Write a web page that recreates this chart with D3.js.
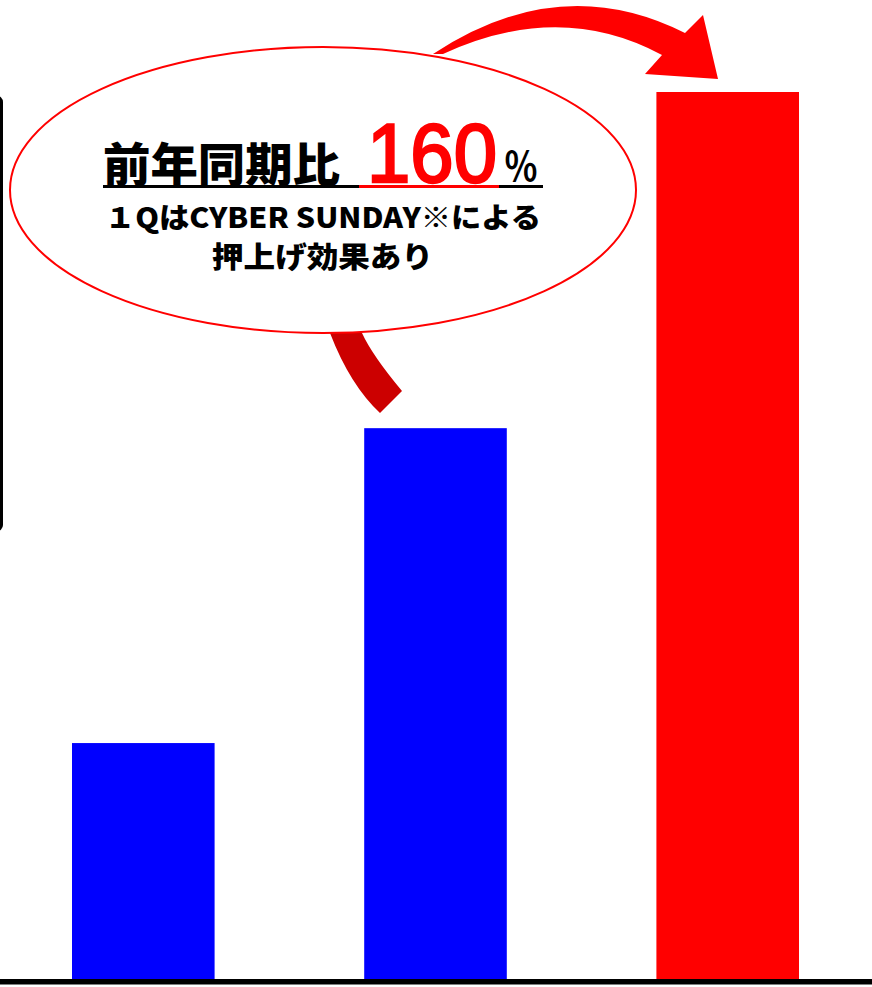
<!DOCTYPE html>
<html>
<head>
<meta charset="utf-8">
<script src="https://cdn.jsdelivr.net/npm/d3@7"></script>
<style>
  html, body { margin: 0; padding: 0; background: #fff; }
  svg { display: block; }
</style>
</head>
<body>
<svg id="chart" width="872" height="987"></svg>
<script>
// Quarterly sales index (latest quarter = 100)
const periods = ["P1", "P2", "P3"];
const values = [26.6, 62.1, 100];
const barColors = ["#0000ff", "#0000ff", "#ff0000"];

// Callout text
const headline = "前年同期比";
const ratioText = "160";
const ratioUnit = "％";
const noteLine1 = "１QはCYBER SUNDAY※による";
const noteLine2 = "押上げ効果あり";

const W = 872, H = 987;
const svg = d3.select("#chart");

const x = d3.scaleBand()
  .domain(periods)
  .range([72, 799])
  .paddingInner(0.512)
  .paddingOuter(0);

const y = d3.scaleLinear()
  .domain([0, 100])
  .range([979, 92]);

// Partly visible framed panel on the left edge
svg.append("rect")
  .attr("x", -300).attr("y", 97)
  .attr("width", 301.5).attr("height", 433)
  .attr("rx", 5)
  .attr("fill", "none")
  .attr("stroke", "#000")
  .attr("stroke-width", 3);

// Bars
svg.append("g").selectAll("rect")
  .data(values)
  .join("rect")
  .attr("x", (d, i) => x(periods[i]))
  .attr("y", d => y(d))
  .attr("width", x.bandwidth())
  .attr("height", d => y(0) - y(d))
  .attr("fill", (d, i) => barColors[i]);

// Baseline
svg.append("rect")
  .attr("x", 0).attr("y", y(0))
  .attr("width", W).attr("height", 5.5)
  .attr("fill", "#000");

// Arrow from callout to the middle bar
svg.append("path")
  .attr("d", "M 330 333 Q 350 385 380 413 L 402 391 Q 372 355 362 333 Z")
  .attr("fill", "#cc0000");

// Curved arrow from callout to the last bar
svg.append("path")
  .attr("d", "M 433 54 Q 560 -30 685 33 L 703 15 L 718 79 L 645 74 L 662 55 Q 560 0 443 54 Z")
  .attr("fill", "#ff0000");

// Callout bubble
svg.append("ellipse")
  .attr("cx", 323).attr("cy", 190)
  .attr("rx", 313).attr("ry", 143)
  .attr("fill", "#fff")
  .attr("stroke", "#ff0000")
  .attr("stroke-width", 2);

const jp = "'Noto Sans CJK JP', 'Noto Sans', sans-serif";

svg.append("text")
  .attr("x", 103).attr("y", 181)
  .attr("font-family", jp)
  .attr("font-weight", 900)
  .attr("font-size", 46)
  .attr("textLength", 237)
  .attr("lengthAdjust", "spacingAndGlyphs")
  .attr("fill", "#000")
  .text(headline);

svg.append("text")
  .attr("x", 367).attr("y", 182)
  .attr("font-family", "'Liberation Sans', Arial, sans-serif")
  .attr("font-size", 83)
  .attr("textLength", 130)
  .attr("lengthAdjust", "spacingAndGlyphs")
  .attr("fill", "#ff0000")
  .attr("stroke", "#ff0000")
  .attr("stroke-width", 2.5)
  .text(ratioText);

svg.append("text")
  .attr("x", 504).attr("y", 181)
  .attr("font-family", "'Noto Sans CJK JP', sans-serif")
  .attr("font-weight", 700)
  .attr("font-size", 40)
  .attr("textLength", 34)
  .attr("lengthAdjust", "spacingAndGlyphs")
  .attr("fill", "#000")
  .text(ratioUnit);

// Underline: black with red segment under the ratio
svg.append("rect").attr("x", 103).attr("y", 185).attr("width", 440).attr("height", 3).attr("fill", "#000");
svg.append("rect").attr("x", 359).attr("y", 185).attr("width", 140).attr("height", 3).attr("fill", "#ff0000");

svg.append("text")
  .attr("x", 105).attr("y", 228)
  .attr("font-family", jp)
  .attr("font-weight", 900)
  .attr("font-size", 28)
  .attr("textLength", 436)
  .attr("lengthAdjust", "spacingAndGlyphs")
  .attr("fill", "#000")
  .text(noteLine1);

svg.append("text")
  .attr("x", 212).attr("y", 268)
  .attr("font-family", jp)
  .attr("font-weight", 900)
  .attr("font-size", 29)
  .attr("textLength", 221)
  .attr("lengthAdjust", "spacingAndGlyphs")
  .attr("fill", "#000")
  .text(noteLine2);
</script>
</body>
</html>
